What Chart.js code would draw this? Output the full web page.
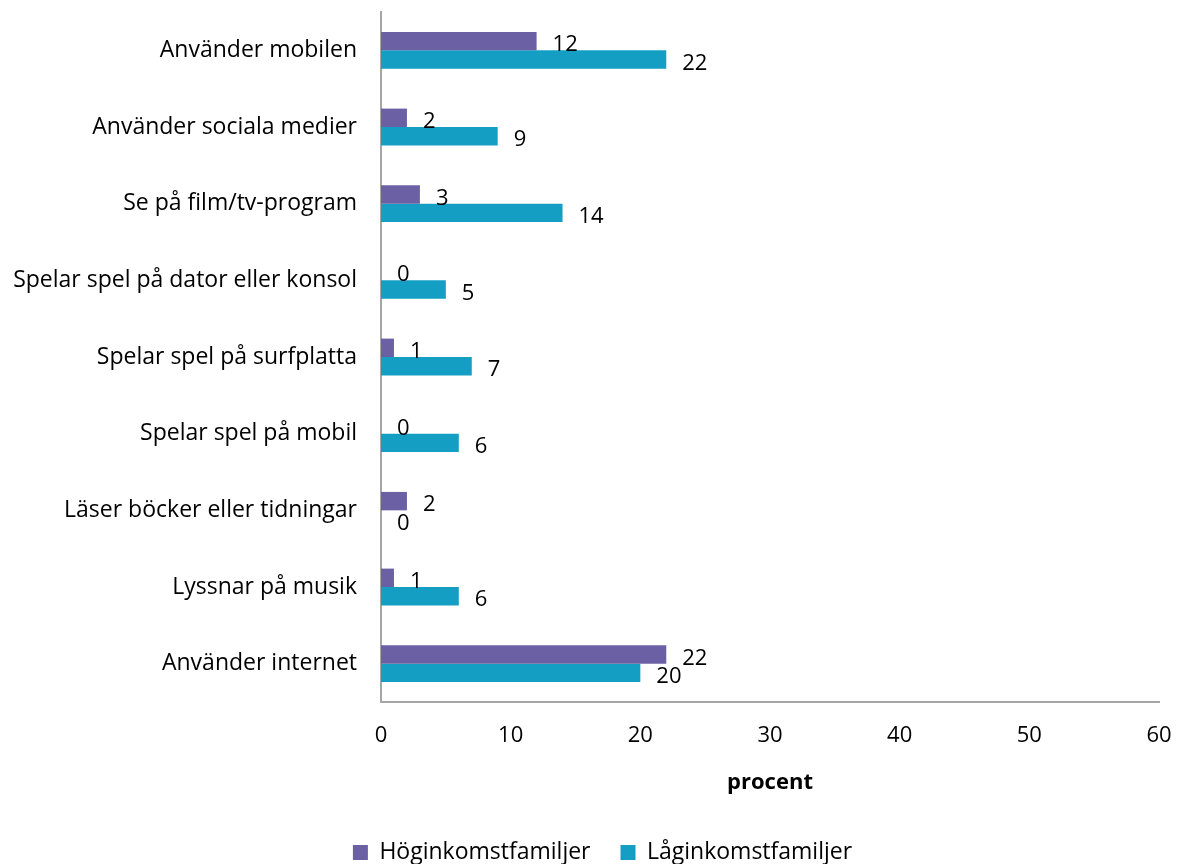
<!DOCTYPE html>
<html>
<head>
<meta charset="utf-8">
<script src="https://cdn.jsdelivr.net/npm/chart.js@4"></script>
<style>
  html, body { margin: 0; padding: 0; background: #fff; }
  #wrap { width: 1181px; height: 864px; }
</style>
</head>
<body>
<div id="wrap"><canvas id="myChart" width="1181" height="864"></canvas></div>
<script>
const categories = [
    'Använder mobilen',
    'Använder sociala medier',
    'Se på film/tv-program',
    'Spelar spel på dator eller konsol',
    'Spelar spel på surfplatta',
    'Spelar spel på mobil',
    'Läser böcker eller tidningar',
    'Lyssnar på musik',
    'Använder internet'
];
const hogValues = [12, 2, 3, 0, 1, 0, 2, 1, 22];
const lagValues = [22, 9, 14, 5, 7, 6, 0, 6, 20];
const xTicks = [0, 10, 20, 30, 40, 50, 60];

const FONT = 'Open Sans';

// value labels to the right of each bar
const barLabels = {
    id: 'barLabels',
    afterDatasetsDraw(chart) {
        const ctx = chart.ctx;
        ctx.save();
        ctx.font = '22px "' + FONT + '"';
        ctx.fillStyle = '#000';
        ctx.textAlign = 'left';
        ctx.textBaseline = 'middle';
        chart.data.datasets.forEach((ds, i) => {
            chart.getDatasetMeta(i).data.forEach((bar, j) => {
                ctx.fillText(String(ds.data[j]), bar.x + 16, bar.y + 4);
            });
        });
        ctx.restore();
    }
};

// nudge the legend a little to the right, like the original
const legendShift = {
    id: 'legendShift',
    afterLayout(chart) {
        if (chart.legend) {
            chart.legend.left += 23;
            chart.legend.right += 23;
        }
    }
};

let ctx = document.getElementById('myChart').getContext('2d');
let myChart = new Chart(ctx, {
    type: 'bar',
    data: {
        labels: categories,
        datasets: [
            { label: 'Höginkomstfamiljer', data: hogValues, backgroundColor: '#6C60A4' },
            { label: 'Låginkomstfamiljer', data: lagValues, backgroundColor: '#149EC4' }
        ]
    },
    options: {
        indexAxis: 'y',
        responsive: false,
        animation: false,
        categoryPercentage: 0.48,
        barPercentage: 1.0,
        layout: { padding: { top: 12, right: 22, left: 0, bottom: 0 } },
        scales: {
            x: {
                min: 0, max: 60,
                afterBuildTicks: s => { s.ticks = xTicks.map(v => ({ value: v })); },
                grid: { display: false },
                border: { color: '#a6a6a6', width: 2 },
                ticks: { color: '#000', padding: 13, font: { family: FONT, size: 22 } },
                title: { display: true, text: 'procent', color: '#000', padding: { top: 4, bottom: 15 },
                         font: { family: FONT, size: 22, weight: 'bold' } },
                afterFit: s => { s.height = 109; s.paddingLeft = 0; s.paddingRight = 0; }
            },
            y: {
                grid: { display: false },
                border: { color: '#a6a6a6', width: 2 },
                ticks: { color: '#000', padding: 16, font: { family: FONT, size: 23 } },
                afterFit: s => { s.width = 381; s.paddingTop = 0; s.paddingBottom = 0; }
            }
        },
        plugins: {
            legend: {
                position: 'bottom',
                maxHeight: 53,
                labels: { color: '#000', boxWidth: 15, boxHeight: 15, padding: 30,
                          font: { family: FONT, size: 23 } }
            },
            tooltip: { enabled: false }
        }
    },
    plugins: [barLabels, legendShift]
});
</script>
</body>
</html>
